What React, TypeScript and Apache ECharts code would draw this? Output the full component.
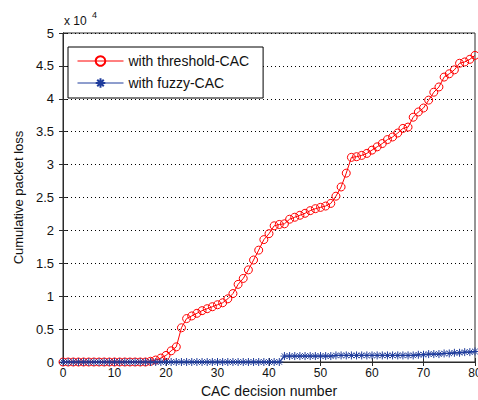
import React, { useEffect, useRef } from "react";
import * as echarts from "echarts";

// CAC decision numbers (x axis)
const decisionNumbers: number[] = [
  0, 1, 2, 3, 4, 5, 6, 7, 8, 9, 10, 11, 12, 13, 14, 15, 16, 17, 18, 19, 20,
  21, 22, 23, 24, 25, 26, 27, 28, 29, 30, 31, 32, 33, 34, 35, 36, 37, 38, 39, 40,
  41, 42, 43, 44, 45, 46, 47, 48, 49, 50, 51, 52, 53, 54, 55, 56, 57, 58, 59, 60,
  61, 62, 63, 64, 65, 66, 67, 68, 69, 70, 71, 72, 73, 74, 75, 76, 77, 78, 79, 80,
];

// Cumulative packet loss, in units of 10^4
const thresholdLoss: number[] = [
  0, 0, 0, 0, 0, 0, 0, 0, 0, 0, 0, 0, 0, 0, 0, 0, 0, 0.01, 0.03, 0.06, 0.1,
  0.17, 0.23, 0.52, 0.66, 0.7, 0.74, 0.78, 0.81, 0.84, 0.87, 0.9, 0.96, 1.04, 1.18, 1.27, 1.4, 1.55, 1.7, 1.86, 1.95,
  2.07, 2.09, 2.1, 2.17, 2.2, 2.23, 2.26, 2.3, 2.33, 2.35, 2.37, 2.41, 2.52, 2.66, 2.87, 3.11, 3.12, 3.14, 3.17, 3.22,
  3.27, 3.32, 3.38, 3.42, 3.48, 3.55, 3.57, 3.72, 3.8, 3.86, 3.98, 4.1, 4.18, 4.33, 4.38, 4.44, 4.54, 4.56, 4.6, 4.66,
];

const fuzzyLoss: number[] = [
  0, 0, 0, 0, 0, 0, 0, 0, 0, 0, 0, 0, 0, 0, 0, 0, 0, 0, 0, 0, 0,
  0, 0, 0, 0, 0, 0, 0, 0, 0, 0, 0, 0, 0, 0, 0, 0, 0, 0, 0, 0,
  0, 0, 0.09, 0.09, 0.09, 0.09, 0.09, 0.09, 0.09, 0.09, 0.09, 0.09, 0.1, 0.1, 0.1, 0.1, 0.1, 0.1, 0.1, 0.1,
  0.1, 0.1, 0.1, 0.1, 0.1, 0.1, 0.1, 0.1, 0.11, 0.11, 0.12, 0.12, 0.12, 0.13, 0.13, 0.14, 0.14, 0.15, 0.15, 0.16,
];

const seriesNames = ["with threshold-CAC", "with fuzzy-CAC"];
const xTitle = "CAC decision number";
const yTitle = "Cumulative packet loss";

const FONT = "Liberation Sans, Arial, sans-serif";
const RED = "#ff0000";
const BLUE = "#1f3c9c";
const AXIS = "#2b2b2b";

const starPath =
  "path://M5,0L5,10M0,5L10,5M1.6,1.6L8.4,8.4M1.6,8.4L8.4,1.6";

export default function App() {
  const ref = useRef<HTMLDivElement>(null);

  useEffect(() => {
    if (!ref.current) return;
    const chart = echarts.init(ref.current, undefined, { renderer: "svg" });

    const tickLabel = { color: "#111", fontFamily: FONT, fontSize: 12 };

    chart.setOption({
      animation: false,
      backgroundColor: "#ffffff",
      grid: {
        left: 63,
        right: 3,
        top: 33,
        bottom: 38,
        show: true,
        borderColor: AXIS,
        borderWidth: 1,
        backgroundColor: "#ffffff",
        containLabel: false,
        outerBoundsMode: "none",
      },
      legend: {
        orient: "vertical",
        left: 68,
        top: 47,
        data: seriesNames,
        backgroundColor: "#ffffff",
        borderColor: "#000",
        borderWidth: 1,
        borderRadius: 0,
        padding: [7, 14, 8, 9],
        itemWidth: 46,
        itemHeight: 12,
        itemGap: 8,
        lineStyle: { width: 1 },
        textStyle: { fontFamily: FONT, fontSize: 14, color: "#111" },
      },
      graphic: [
        {
          type: "text",
          left: 64,
          top: 15,
          style: { text: "x 10", fontFamily: FONT, fontSize: 12, fill: "#111" },
        },
        {
          type: "text",
          left: 92,
          top: 10,
          style: { text: "4", fontFamily: FONT, fontSize: 9, fill: "#111" },
        },
      ],
      xAxis: [
        {
          type: "value",
          min: 0,
          max: 80,
          interval: 10,
          position: "bottom",
          name: xTitle,
          nameLocation: "middle",
          nameGap: 20,
          nameTextStyle: { fontFamily: FONT, fontSize: 14, color: "#111" },
          axisLine: { show: true, lineStyle: { color: AXIS } },
          axisTick: { show: true, inside: true, length: 4, lineStyle: { color: AXIS } },
          axisLabel: { ...tickLabel, margin: 5 },
          splitLine: { show: false },
        },
        {
          type: "value",
          min: 0,
          max: 80,
          interval: 10,
          position: "top",
          axisLine: { show: true, lineStyle: { color: AXIS } },
          axisTick: { show: true, inside: true, length: 4, lineStyle: { color: AXIS } },
          axisLabel: { show: false },
          splitLine: { show: false },
        },
      ],
      yAxis: [
        {
          type: "value",
          min: 0,
          max: 5,
          interval: 0.5,
          position: "left",
          name: yTitle,
          nameLocation: "middle",
          nameGap: 37,
          nameTextStyle: { fontFamily: FONT, fontSize: 13, color: "#111" },
          axisLine: { show: true, lineStyle: { color: AXIS } },
          axisTick: { show: true, inside: true, length: 4, lineStyle: { color: AXIS } },
          axisLabel: { ...tickLabel, fontSize: 13, margin: 9 },
          splitLine: { show: true, lineStyle: { color: "#000", width: 1, type: [1, 3] } },
        },
        {
          type: "value",
          min: 0,
          max: 5,
          interval: 0.5,
          position: "right",
          axisLine: { show: true, lineStyle: { color: AXIS } },
          axisTick: { show: true, inside: true, length: 4, lineStyle: { color: AXIS } },
          axisLabel: { show: false },
          splitLine: { show: false },
        },
      ],
      series: [
        {
          name: seriesNames[0],
          type: "line",
          xAxisIndex: 0,
          yAxisIndex: 0,
          data: decisionNumbers.map((x, i) => [x, thresholdLoss[i]]),
          symbol: "circle",
          symbolSize: 8,
          showAllSymbol: true,
          clip: false,
          color: RED,
          lineStyle: { color: RED, width: 1 },
          itemStyle: { color: "rgba(255,255,255,0)", borderColor: RED, borderWidth: 1 },
          z: 2,
        },
        {
          name: seriesNames[1],
          type: "line",
          xAxisIndex: 0,
          yAxisIndex: 0,
          data: decisionNumbers.map((x, i) => [x, fuzzyLoss[i]]),
          symbol: starPath,
          symbolSize: 8,
          showAllSymbol: true,
          clip: false,
          color: BLUE,
          lineStyle: { color: BLUE, width: 1.2 },
          itemStyle: { color: BLUE, borderColor: BLUE, borderWidth: 1 },
          z: 3,
        },
      ],
    });

    return () => chart.dispose();
  }, []);

  return (
    <div
      ref={ref}
      style={{ position: "fixed", left: 0, top: 0, width: 478, height: 400, background: "#fff" }}
    />
  );
}
